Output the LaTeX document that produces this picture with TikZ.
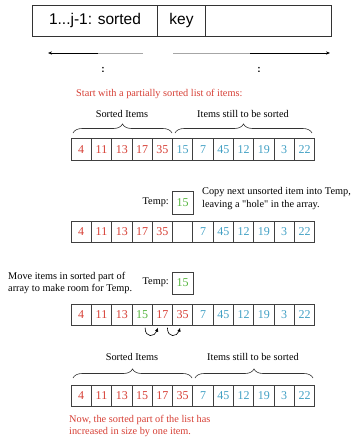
\documentclass[tikz,border=0pt]{standalone}
\usepackage{fontspec}
\setmainfont{Liberation Serif}
\newfontfamily\hv{Liberation Sans}
\newfontfamily\qf{Liberation Serif}
\usetikzlibrary{decorations.pathreplacing,arrows.meta}
\definecolor{sred}{RGB}{214,62,52}
\definecolor{sblue}{RGB}{66,160,196}
\definecolor{sgreen}{RGB}{84,180,60}
\tikzset{
  cell/.style={draw=black!75,line width=0.8pt,minimum width=20.3pt,minimum height=21.5pt,inner sep=0pt,font=\fontsize{12}{12}\selectfont},
  tempbox/.style={draw=black!75,line width=0.8pt,minimum width=21pt,minimum height=22pt,inner sep=0pt,font=\fontsize{12}{12}\selectfont,text=sgreen},
  lbl/.style={font=\fontsize{10.3}{12.2}\selectfont,inner sep=0pt},
  redlbl/.style={lbl,text=sred},
  brc/.style={decorate,decoration={brace,amplitude=9pt},draw=black!80,line width=0.6pt},
  topbox/.style={draw=black!80,line width=0.7pt,minimum height=31.5pt,inner sep=0pt,font=\hv\fontsize{15.5}{16}\selectfont},
  tip/.style={-{Stealth[length=4pt,width=3.2pt]}},
  curvarr/.style={-{Latex[length=4pt,width=3.5pt]},line width=0.6pt}
}
\begin{document}
\begin{tikzpicture}[x=1pt,y=-1pt]
\useasboundingbox (0,0) rectangle (354,437);
% top box
\node[topbox,minimum width=125.5pt] (ta) at (95,20.75) {1...j-1: sorted};
\node[topbox,minimum width=47.5pt] (tb) at (181.5,20.75) {key};
\node[topbox,minimum width=126.5pt] (tc) at (268.5,20.75) {};
% arrows under top box
\coordinate (l0) at (48,53);
\coordinate (lm) at (98,53);
\coordinate (l1) at (143,53);
\coordinate (r0) at (173,53);
\coordinate (rm) at (250,53);
\coordinate (r1) at (330,53);
\draw[black!35,line width=0.7pt] (l1) -- (lm);
\draw[tip,line width=0.7pt] (lm) -- (l0);
\draw[black!35,line width=0.7pt] (r0) -- (rm);
\draw[tip,line width=0.7pt] (rm) -- (r1);
\node[font=\hv\bfseries\fontsize{10}{10}\selectfont,inner sep=0pt] (c1) at (103,70) {:};
\node[font=\hv\bfseries\fontsize{10}{10}\selectfont,inner sep=0pt] (c2) at (259,70) {:};
% title
\node[redlbl,anchor=west] (title) at (76,94) {Start with a partially sorted list of items:};
% row 1
\foreach \v/\c [count=\i from 0] in {4/sred,11/sred,13/sred,17/sred,35/sred,15/sblue,7/sblue,45/sblue,12/sblue,19/sblue,3/sblue,22/sblue}
  \node[cell,text=\c] (ra\i) at ({81.2+20.3*\i},149.5) {\v};
\draw[brc] (73,133) -- (172,133);
\draw[brc] (175,133) -- (312,133);
\node[lbl] (s1) at (122,114) {Sorted Items};
\node[lbl] (u1) at (243,114) {Items still to be sorted};
% row 2
\node[tempbox,minimum height=23pt] (t2) at (182.5,202.5) {15};
\node[lbl,anchor=east] (tl2) at (169,202.5) {Temp:};
\node[lbl,anchor=west,align=left] (cp) at (202,198.5) {Copy next unsorted item into Temp,\\leaving a {\qf"}hole{\qf"} in the array.};
\foreach \v/\c [count=\i from 0] in {4/sred,11/sred,13/sred,17/sred,35/sred,/sblue,7/sblue,45/sblue,12/sblue,19/sblue,3/sblue,22/sblue}
  \node[cell,text=\c] (rb\i) at ({81.2+20.3*\i},232) {\v};
% row 3
\node[tempbox] (t3) at (182.5,283) {15};
\node[lbl,anchor=east] (tl3) at (169,282) {Temp:};
\node[lbl,anchor=west,align=left] (mv) at (8,283) {Move items in sorted part of\\array to make room for Temp.};
\foreach \v/\c [count=\i from 0] in {4/sred,11/sred,13/sred,15/sgreen,17/sred,35/sred,7/sblue,45/sblue,12/sblue,19/sblue,3/sblue,22/sblue}
  \node[cell,text=\c] (rc\i) at ({81.2+20.3*\i},315) {\v};
\draw[curvarr] ([xshift=3pt,yshift=-1.5pt]rc3.south) .. controls +(0,11) and +(-3,9) .. ([xshift=-4.5pt,yshift=-1.5pt]rc4.south);
\draw[curvarr] ([xshift=5pt,yshift=-1.5pt]rc4.south) .. controls +(0,11) and +(-3,9) .. ([xshift=-2.5pt,yshift=-1.5pt]rc5.south);
% row 4
\foreach \v/\c [count=\i from 0] in {4/sred,11/sred,13/sred,15/sred,17/sred,35/sred,7/sblue,45/sblue,12/sblue,19/sblue,3/sblue,22/sblue}
  \node[cell,text=\c] (rd\i) at ({81.2+20.3*\i},396) {\v};
\draw[brc] (73,378) -- (192,378);
\draw[brc] (195,378) -- (313,378);
\node[lbl] (s4) at (132,357) {Sorted Items};
\node[lbl] (u4) at (253,357) {Items still to be sorted};
\node[redlbl,anchor=west,align=left] (nw) at (69,426) {Now, the sorted part of the list has\\increased in size by one item.};
\end{tikzpicture}
\end{document}
